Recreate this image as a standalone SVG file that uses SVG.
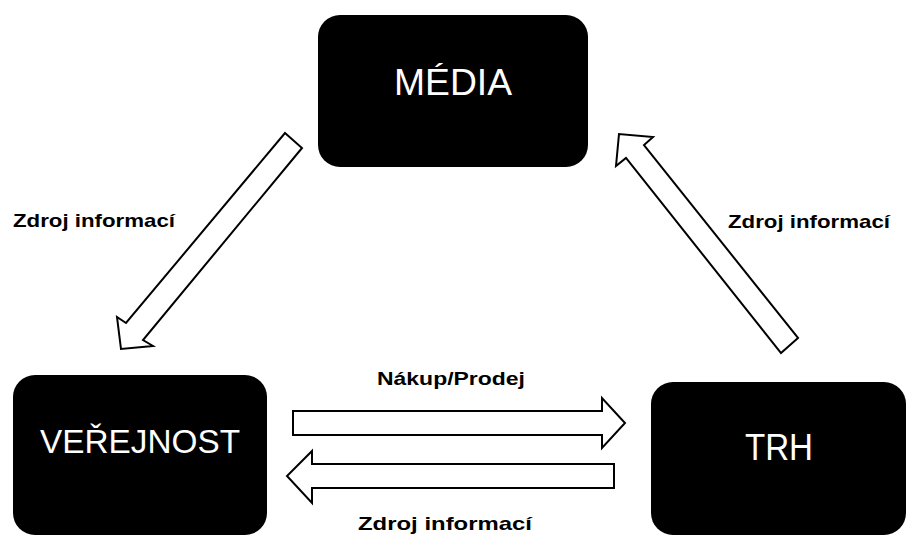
<svg xmlns="http://www.w3.org/2000/svg" width="908" height="541" viewBox="0 0 908 541">
<style>
.box{fill:#000;}
.nt{fill:#fff;font-family:"Liberation Sans",Arial,sans-serif;text-anchor:middle;}
.lbl{fill:#000;font-family:"Liberation Sans",Arial,sans-serif;font-weight:bold;font-size:19px;}
.arr{fill:#fff;stroke:#000;stroke-width:2;stroke-linejoin:miter;}
</style>
<rect width="908" height="541" fill="#fff"/>
<g id="media">
<rect class="box" x="318" y="15" width="270" height="152" rx="22"/>
<text class="nt" x="453" y="95" font-size="36" textLength="118" lengthAdjust="spacingAndGlyphs">MÉDIA</text>
</g>
<g id="verejnost">
<rect class="box" x="13" y="375" width="254" height="160" rx="22"/>
<text class="nt" x="140" y="453" font-size="33" textLength="200" lengthAdjust="spacingAndGlyphs">VEŘEJNOST</text>
</g>
<g id="trh">
<rect class="box" x="651" y="382" width="255" height="153" rx="22"/>
<text class="nt" x="779" y="460" font-size="37" textLength="68" lengthAdjust="spacingAndGlyphs">TRH</text>
</g>
<g id="connectors">
<polygon class="arr" points="285,133 302,148 143,340 153,346 121,349 117,317 126,323"/>
<polygon class="arr" points="798,338 781,353 626,158 616,166 619,134 653,137 644,145"/>
<polygon class="arr" points="293,411 602,411 602,398 625,423 602,448 602,435 293,435"/>
<polygon class="arr" points="614,464 312,464 312,451 287,476 312,503 312,488 614,488"/>
</g>
<g id="labels">
<text class="lbl" x="13" y="227" textLength="162" lengthAdjust="spacingAndGlyphs">Zdroj informací</text>
<text class="lbl" x="728" y="228" textLength="162" lengthAdjust="spacingAndGlyphs">Zdroj informací</text>
<text class="lbl" x="377" y="385" textLength="148" lengthAdjust="spacingAndGlyphs">Nákup/Prodej</text>
<text class="lbl" x="358" y="530" textLength="174" lengthAdjust="spacingAndGlyphs">Zdroj informací</text>
</g>
</svg>
